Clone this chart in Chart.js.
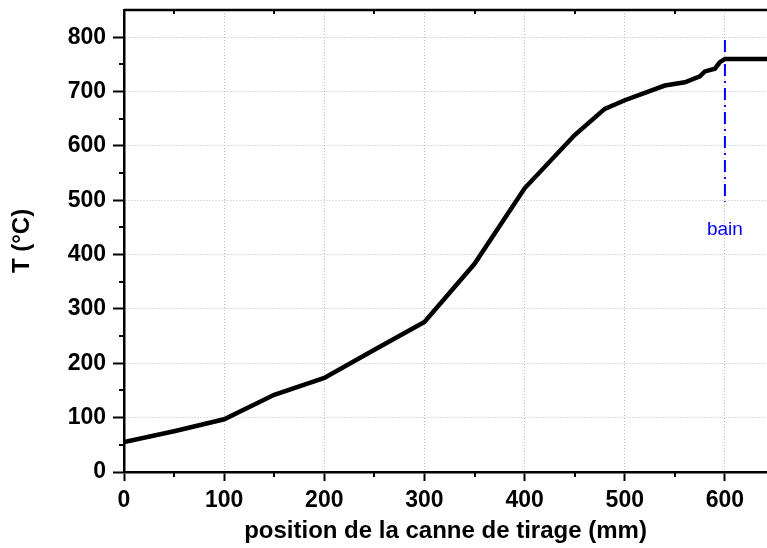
<!DOCTYPE html>
<html>
<head>
<meta charset="utf-8">
<script src="https://cdn.jsdelivr.net/npm/chart.js@4.4.0/dist/chart.umd.min.js"></script>
<style>
  html, body { margin: 0; padding: 0; background: #fff; }
</style>
</head>
<body>
<canvas id="temp-chart" width="767" height="548"></canvas>
<script>
// temperature profile along the drawing rod
var posX  = [0, 50, 100, 150, 200, 250, 300, 350, 400, 450, 480, 500, 540, 560, 575, 580, 590, 595, 600, 642];
var tempC = [55, 75, 97, 142, 173, 225, 276, 383, 522, 620, 668, 684, 711, 717, 728, 737, 742, 754, 760, 760];

// "bain" marker (vertical dash-dot line)
var bainX = [600, 600];
var bainY = [795, 497];
var bainLabel = 'bain';

var FONT = '"Liberation Sans", Arial, sans-serif';

function pts(xs, ys) {
  var out = [];
  for (var i in xs) out.push({x: xs[i], y: ys[i]});
  return out;
}

// minor ticks, top frame line, bath label
var extras = {
  id: 'extras',
  afterDraw: function(chart) {
    var ctx = chart.ctx, a = chart.chartArea;
    var sx = chart.scales.x, sy = chart.scales.y;
    ctx.save();
    ctx.strokeStyle = '#000';
    ctx.lineWidth = 2;
    ctx.beginPath();
    for (var v = 50; v < 642; v += 100) {
      var px = Math.round(sx.getPixelForValue(v));
      ctx.moveTo(px, a.bottom); ctx.lineTo(px, a.bottom + 5);
      ctx.moveTo(px, a.top); ctx.lineTo(px, a.top + 4);
    }
    for (var t = 50; t < 850; t += 100) {
      var py = Math.round(sy.getPixelForValue(t));
      ctx.moveTo(a.left, py); ctx.lineTo(a.left - 5, py);
    }
    ctx.stroke();
    ctx.lineWidth = 2.5;
    ctx.beginPath();
    ctx.moveTo(a.left, a.top); ctx.lineTo(a.right, a.top);
    ctx.stroke();
    ctx.fillStyle = '#0000ff';
    ctx.font = '19px ' + FONT;
    ctx.textAlign = 'center';
    ctx.textBaseline = 'middle';
    ctx.fillText(bainLabel, sx.getPixelForValue(bainX[0]), sy.getPixelForValue(445));
    ctx.restore();
  }
};

new Chart(document.getElementById('temp-chart'), {
  type: 'line',
  data: {
    datasets: [
      {
        data: pts(posX, tempC),
        borderColor: '#000',
        borderWidth: 4.5,
        pointRadius: 0,
        tension: 0,
        fill: false
      },
      {
        data: pts(bainX, bainY),
        borderColor: '#0000ff',
        borderWidth: 2,
        borderDash: [12, 5, 2, 5],
        pointRadius: 0,
        fill: false
      }
    ]
  },
  options: {
    responsive: false,
    animation: false,
    layout: { padding: { left: 0, top: 10, right: 0, bottom: 0 } },
    plugins: { legend: { display: false }, tooltip: { enabled: false } },
    scales: {
      x: {
        type: 'linear',
        min: 0,
        max: 642,
        ticks: { stepSize: 100, includeBounds: false, maxRotation: 0, padding: 6,
                 color: '#000', font: { family: FONT, size: 23, weight: 'bold' } },
        grid: { color: '#bdbdbd', tickColor: '#000', tickWidth: 2, tickLength: 9 },
        border: { color: '#000', width: 2.5, dash: [1, 2] },
        title: { display: true, text: 'position de la canne de tirage (mm)', color: '#000',
                 font: { family: FONT, size: 24, weight: 'bold' }, padding: { top: 2, bottom: 2 } },
        afterFit: function(s) { s.height = 76; s.paddingLeft = 0; s.paddingRight = 0; }
      },
      y: {
        min: 0,
        max: 850,
        ticks: { stepSize: 100, includeBounds: false, padding: 7,
                 color: '#000', font: { family: FONT, size: 23, weight: 'bold' } },
        grid: { color: '#bdbdbd', tickColor: '#000', tickWidth: 2, tickLength: 11 },
        border: { color: '#000', width: 2.5, dash: [1, 2] },
        title: { display: true, text: 'T (°C)', color: '#000',
                 font: { family: FONT, size: 24, weight: 'bold' }, padding: { top: 8, bottom: 4 } },
        afterFit: function(s) { s.width = 124; s.paddingTop = 0; s.paddingBottom = 0; }
      }
    }
  },
  plugins: [extras]
});
</script>
</body>
</html>
